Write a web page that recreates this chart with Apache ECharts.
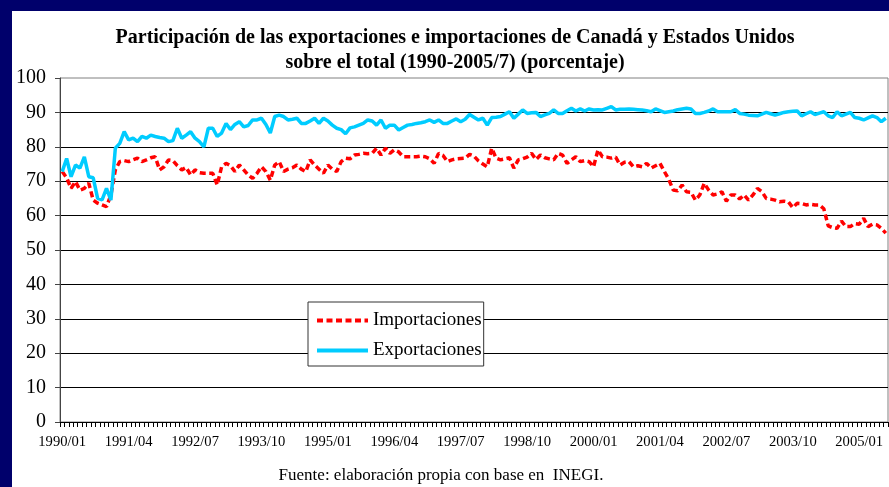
<!DOCTYPE html>
<html>
<head>
<meta charset="utf-8">
<title>Participación Canadá y Estados Unidos</title>
<style>
  html, body { margin: 0; padding: 0; background: #fff; }
  #main { width: 889px; height: 487px; }
</style>
</head>
<body>
<div id="main"></div>
<script src="https://cdn.jsdelivr.net/npm/echarts@6/dist/echarts.min.js"></script>
<script>
// meses 1990/01 .. 2005/07
var meses = [];
for (var a = 1990; a <= 2005; a++) {
    for (var m = 1; m <= 12; m++) {
        if (a === 2005 && m > 7) break;
        meses.push(a + '/' + (m < 10 ? '0' + m : m));
    }
}

var yTicks = [0, 10, 20, 30, 40, 50, 60, 70, 80, 90, 100];

// Exportaciones (%), por año
var expo = [
    72.8, 76.6, 71.3, 74.7, 73.8, 77.1, 71.3, 71.0, 65.0, 64.6, 67.9, 64.5,   // 1990
    79.6, 81.0, 84.4, 82.0, 82.5, 81.5, 83.0, 82.5, 83.4, 83.0, 82.7, 82.5,   // 1991
    81.5, 81.8, 85.4, 82.5, 83.4, 84.4, 82.5, 81.5, 80.0, 85.4, 85.4, 83.0,   // 1992
    84.0, 86.8, 85.0, 86.5, 87.3, 85.8, 86.2, 87.8, 87.8, 88.3, 86.5, 84.0,   // 1993
    88.8, 89.2, 88.8, 87.8, 88.0, 88.3, 86.8, 86.8, 87.5, 88.3, 86.8, 88.3,   // 1994
    87.5, 86.3, 85.4, 85.0, 83.8, 85.5, 85.8, 86.3, 86.8, 87.8, 87.5, 86.3,   // 1995
    87.8, 85.4, 86.3, 86.3, 84.9, 85.6, 86.3, 86.5, 86.8, 87.0, 87.3, 87.8,   // 1996
    87.1, 87.8, 86.8, 86.8, 87.5, 88.1, 87.3, 88.0, 89.4, 88.6, 87.8, 88.3,   // 1997
    86.3, 88.5, 88.6, 88.8, 89.5, 90.2, 88.3, 89.5, 90.7, 89.7, 89.9, 90.0,   // 1998
    88.8, 89.3, 89.7, 90.7, 89.7, 89.7, 90.5, 91.2, 90.4, 91.0, 90.4, 91.0,   // 1999
    90.7, 90.8, 90.7, 91.2, 91.7, 90.7, 90.9, 90.9, 91.0, 90.9, 90.8, 90.7,   // 2000
    90.5, 90.2, 91.0, 90.5, 90.0, 90.2, 90.4, 90.8, 91.0, 91.2, 91.0, 89.7,   // 2001
    89.7, 90.0, 90.4, 91.0, 90.2, 90.2, 90.2, 90.2, 90.8, 89.7, 89.5, 89.2,   // 2002
    89.1, 89.0, 89.5, 90.0, 89.6, 89.2, 89.6, 90.0, 90.2, 90.3, 90.4, 89.0,   // 2003
    89.6, 90.2, 89.4, 89.8, 90.2, 89.0, 88.5, 90.2, 89.0, 89.5, 90.0, 88.5,   // 2004
    88.3, 87.8, 88.4, 89.0, 88.5, 87.3, 88.3                                  // 2005
];

// Importaciones (%)
var impo = [
    72.8, 71.0, 67.9, 69.9, 67.4, 67.9, 69.4, 64.5, 63.6, 63.1, 62.6, 66.0,   // 1990
    73.3, 75.7, 76.0, 75.7, 76.2, 76.7, 75.7, 76.2, 76.8, 77.1, 73.3, 74.2,   // 1991
    76.2, 76.0, 74.5, 73.3, 74.0, 71.8, 73.3, 72.5, 72.3, 72.3, 72.3, 68.9,   // 1992
    74.2, 75.2, 74.5, 72.8, 74.7, 73.3, 71.8, 70.8, 72.3, 74.2, 72.8, 70.3,   // 1993
    74.7, 75.7, 72.8, 73.5, 73.9, 74.7, 73.5, 72.8, 76.2, 74.7, 73.5, 72.3,   // 1994
    74.7, 73.5, 72.8, 75.7, 76.7, 76.5, 77.6, 77.8, 78.1, 78.0, 78.1, 79.6,   // 1995
    77.6, 79.6, 78.1, 79.1, 78.5, 77.1, 77.1, 77.1, 77.1, 77.3, 77.1, 76.5,   // 1996
    75.2, 78.1, 77.5, 75.7, 76.2, 76.5, 76.6, 76.7, 77.8, 77.3, 75.9, 75.0,   // 1997
    74.2, 79.6, 76.7, 76.2, 76.5, 76.8, 73.8, 76.2, 76.5, 77.0, 78.1, 76.3,   // 1998
    77.6, 76.8, 76.5, 76.2, 78.1, 77.6, 75.2, 76.2, 77.1, 75.7, 76.0, 75.7,   // 1999
    74.2, 79.1, 77.1, 77.0, 76.7, 77.0, 74.7, 75.5, 75.7, 74.2, 74.5, 74.2,   // 2000
    75.2, 73.8, 74.5, 75.2, 72.8, 70.5, 67.4, 67.2, 68.9, 66.9, 66.8, 64.5,   // 2001
    66.0, 69.4, 67.4, 66.0, 66.3, 66.9, 64.2, 66.0, 66.0, 64.8, 66.0, 64.5,   // 2002
    66.0, 67.9, 67.0, 65.0, 64.8, 64.5, 64.0, 64.2, 64.0, 62.3, 63.6, 63.5,   // 2003
    63.1, 63.3, 63.1, 63.1, 62.0, 57.0, 56.5, 56.3, 58.4, 56.8, 56.8, 57.7,   // 2004
    57.5, 59.2, 56.8, 57.5, 57.3, 56.3, 54.9                                  // 2005
];

var serif = 'Liberation Serif';
var myChart = echarts.init(document.getElementById('main'));

var option = {
    backgroundColor: '#fff',
    animation: false,
    // marco azul y titulos
    graphic: [
        { type: 'rect', shape: { x: 0, y: 0, width: 12, height: 487 }, style: { fill: '#00006b' }, z: 100 },
        { type: 'rect', shape: { x: 0, y: 0, width: 889, height: 11 }, style: { fill: '#00006b' }, z: 100 },
        {
            type: 'text', x: 455, y: 25, z: 100,
            style: {
                text: 'Participación de las exportaciones e importaciones de Canadá y Estados Unidos\nsobre el total (1990-2005/7) (porcentaje)',
                font: 'bold 20px "' + serif + '"', fill: '#000',
                textAlign: 'center', lineHeight: 25
            }
        },
        {
            type: 'text', x: 441, y: 467, z: 100,
            style: {
                text: 'Fuente: elaboración propia con base en  INEGI.',
                font: '17px "' + serif + '"', fill: '#000', textAlign: 'center'
            }
        }
    ],
    grid: {
        left: 60, right: 1, top: 78, bottom: 65,
        show: true, borderColor: '#808080', borderWidth: 1, backgroundColor: '#fff'
    },
    legend: {
        orient: 'vertical',
        left: 308, top: 302,
        data: ['Importaciones', 'Exportaciones'],
        backgroundColor: '#fff',
        borderColor: '#333', borderWidth: 1,
        padding: [9, 2, 6, 7],
        itemWidth: 51, itemHeight: 14, itemGap: 11,
        itemStyle: { opacity: 0 },
        lineStyle: { width: 4 },
        textStyle: { fontFamily: serif, fontSize: 19, color: '#000' },
        z: 10
    },
    xAxis: {
        type: 'category',
        data: meses,
        boundaryGap: true,
        axisLine: { lineStyle: { color: '#000', width: 1 } },
        axisTick: { show: true, interval: 0, length: 5, lineStyle: { color: '#000' } },
        axisLabel: { interval: 14, margin: 13, fontFamily: serif, fontSize: 14.6, color: '#000' },
        splitLine: { show: false }
    },
    yAxis: {
        type: 'value',
        min: yTicks[0], max: yTicks[yTicks.length - 1], interval: 10,
        axisLine: { show: true, lineStyle: { color: '#444', width: 1 } },
        axisTick: { show: true, length: 5, lineStyle: { color: '#444' } },
        axisLabel: { margin: 14, fontFamily: serif, fontSize: 20, color: '#000' },
        splitLine: { show: true, showMaxLine: false, lineStyle: { color: '#000', width: 1 } }
    },
    series: [
        {
            name: 'Importaciones',
            type: 'line',
            data: impo,
            symbol: 'none',
            lineStyle: { color: '#ff0000', width: 3.5, type: [6, 3.5] },
            itemStyle: { color: '#ff0000' },
            z: 2
        },
        {
            name: 'Exportaciones',
            type: 'line',
            data: expo,
            symbol: 'none',
            lineStyle: { color: '#00ccff', width: 3.5 },
            itemStyle: { color: '#00ccff' },
            z: 3
        }
    ]
};
myChart.setOption(option);
</script>
</body>
</html>
